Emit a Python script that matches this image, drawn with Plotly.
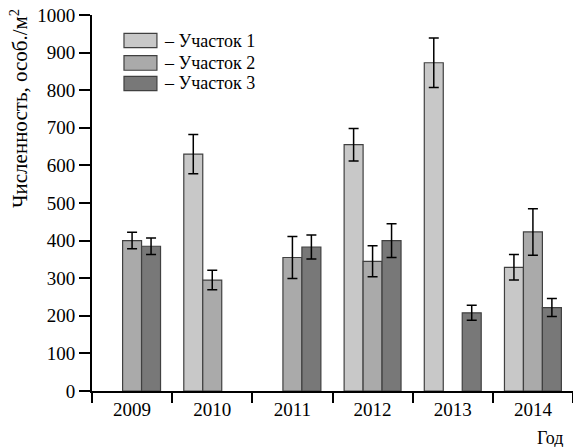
import plotly.graph_objects as go

years = ["2009", "2010", "2011", "2012", "2013", "2014"]
site_names = ["– Участок 1", "– Участок 2", "– Участок 3"]
site1 = [None, 630, None, 655, 873, 329]
site1_err = [0, 52, 0, 43, 66, 34]
site2 = [400, 295, 355, 345, None, 423]
site2_err = [22, 26, 56, 41, 0, 62]
site3 = [385, None, 383, 400, 208, 222]
site3_err = [22, 0, 32, 45, 20, 24]
colors = ["#c8c8c8", "#aaaaaa", "#787878"]

FONT = "Liberation Serif"

fig = go.Figure()
for vals, errs, col in zip([site1, site2, site3], [site1_err, site2_err, site3_err], colors):
    fig.add_trace(go.Bar(
        x=years, y=vals,
        marker=dict(color=col, line=dict(color="#404040", width=1.2)),
        error_y=dict(type="data", array=errs, visible=True, color="black",
                     thickness=1.5, width=5),
        showlegend=False,
    ))

# custom legend
rows = [(0.913, 0.951), (0.853, 0.892), (0.799, 0.837)]
for (y0, y1), col, name in zip(rows, colors, site_names):
    fig.add_shape(type="rect", xref="paper", yref="paper",
                  x0=0.0665, x1=0.135, y0=y0, y1=y1,
                  fillcolor=col, line=dict(color="#404040", width=1.2))
    fig.add_annotation(xref="paper", yref="paper", x=0.146, y=(y0 + y1) / 2,
                       text=name, showarrow=False, xanchor="left", yanchor="middle",
                       font=dict(family=FONT, size=18, color="black"))

fig.add_annotation(xref="paper", yref="paper", x=-0.152, y=1.022,
                   text="Численность, особ./м<sup>2</sup>", textangle=-90,
                   showarrow=False, xanchor="center", yanchor="top",
                   font=dict(family=FONT, size=21, color="black"))
fig.add_annotation(xref="paper", yref="paper", x=0.952, y=-0.124,
                   text="Год", showarrow=False, xanchor="center", yanchor="middle",
                   font=dict(family=FONT, size=18, color="black"))

fig.update_layout(
    width=573, height=447,
    margin=dict(l=92, r=0, t=15, b=56),
    barmode="group", bargap=0.29, bargroupgap=0,
    plot_bgcolor="white", paper_bgcolor="white",
    font=dict(family=FONT, size=18, color="black"),
    xaxis=dict(type="category", showline=True, linecolor="black", linewidth=2,
               ticks="outside", tickson="boundaries", ticklen=10, tickwidth=2,
               tickcolor="black", showgrid=False, zeroline=False,
               tickfont=dict(family=FONT, size=19)),
    yaxis=dict(range=[0, 1000], showline=True, linecolor="black", linewidth=2,
               ticks="outside", ticklen=11, tickwidth=2, tickcolor="black",
               dtick=100, showgrid=False, zeroline=False,
               tickfont=dict(family=FONT, size=19)),
)

fig.write_html("out.html", config={"displayModeBar": False},
               post_script="document.body.style.margin='0';document.body.style.padding='0';")
